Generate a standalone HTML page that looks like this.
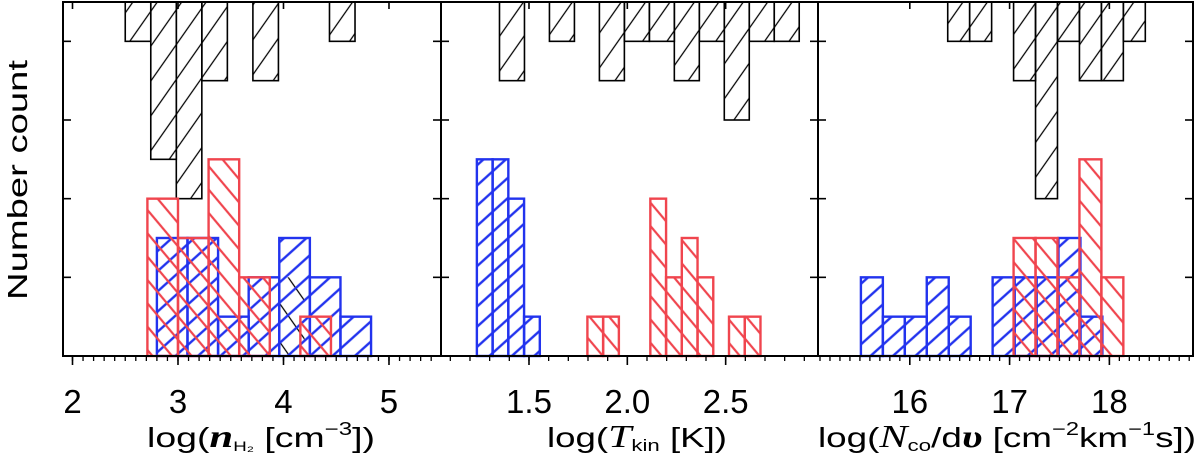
<!DOCTYPE html>
<html><head><meta charset="utf-8"><style>
html,body{margin:0;padding:0;background:#fff;}
svg{display:block;font-family:"Liberation Sans","DejaVu Sans",sans-serif;}
</style></head><body>
<svg id="c" width="1200" height="460" viewBox="0 0 1200 460">
<defs>
<pattern id="hk" patternUnits="userSpaceOnUse" width="20" height="20" patternTransform="rotate(-55)"><line x1="0" y1="10" x2="20" y2="10" stroke="#000" stroke-width="1.3"/></pattern>
<pattern id="hb" patternUnits="userSpaceOnUse" width="15" height="15" patternTransform="rotate(-42)"><line x1="0" y1="7" x2="15" y2="7" stroke="#2233ee" stroke-width="2.4"/></pattern>
<pattern id="hr" patternUnits="userSpaceOnUse" width="15" height="15" patternTransform="rotate(50)"><line x1="0" y1="7" x2="15" y2="7" stroke="#f0454e" stroke-width="2.2"/></pattern>
<pattern id="hx" patternUnits="userSpaceOnUse" width="22" height="22" patternTransform="rotate(55)"><line x1="0" y1="11" x2="22" y2="11" stroke="#000" stroke-width="1.3"/></pattern>
</defs>
<g id="plots"></g>
<text x="27" y="180" transform="rotate(-90 27 180)" text-anchor="middle" font-size="28" textLength="240" lengthAdjust="spacingAndGlyphs">Number count</text>
<text x="147" y="447" font-size="28" textLength="228" lengthAdjust="spacingAndGlyphs">log(<tspan font-family="Liberation Serif" font-style="italic" font-weight="bold" font-size="32">n</tspan><tspan font-size="14" dy="4">H₂</tspan><tspan dy="-4"> [cm</tspan><tspan font-size="18" dy="-12">−3</tspan><tspan dy="12">])</tspan></text>
<text x="547" y="447" font-size="28" textLength="180" lengthAdjust="spacingAndGlyphs">log(<tspan font-family="Liberation Serif" font-style="italic" font-size="32">T</tspan><tspan font-size="17" dy="4">kin</tspan><tspan dy="-4"> [K])</tspan></text>
<text x="818" y="447" font-size="28" textLength="378" lengthAdjust="spacingAndGlyphs">log(<tspan font-family="Liberation Serif" font-style="italic" font-size="32">N</tspan><tspan font-size="17" dy="4">co</tspan><tspan dy="-4">/d</tspan><tspan font-family="Liberation Serif" font-style="italic" font-weight="bold" font-size="32">υ</tspan><tspan> [cm</tspan><tspan font-size="18" dy="-12">−2</tspan><tspan dy="12">km</tspan><tspan font-size="18" dy="-12">−1</tspan><tspan dy="12">s])</tspan></text>
</svg>
<script>
// Panel 1: log n_H2
const p1Black = {start:2.50, width:0.242, counts:[1,4,5,2,0,2,0,0,1]};
const p1Blue  = {start:2.80, width:0.29, counts:[3,3,1,2,3,2,1]};
const p1Red   = {start:2.71, width:0.29, counts:[4,3,5,2,0,1]};
const p1Hidden = {start:3.96, width:0.24, counts:[2]};
const p1Ticks = ["2","3","4","5"];
const p1TickVals = [2,3,4,5];
// Panel 2: log T_kin
const p2Black = {start:1.35, width:0.127, counts:[2,0,1,0,2,1,1,2,1,3,1,1]};
const p2Blue  = {start:1.235, width:0.08, counts:[5,5,4,1]};
const p2Red   = {start:1.797, width:0.08, counts:[1,1,0,0,4,2,3,2,0,1,1]};
const p2Ticks = ["1.5","2.0","2.5"];
const p2TickVals = [1.5,2.0,2.5];
// Panel 3: log N_co/dv
const p3Black = {start:16.38, width:0.22, counts:[1,1,0,2,5,1,2,2,1]};
const p3Blue  = {start:15.51, width:0.22, counts:[2,1,1,2,1,0,2,2,2,3,1]};
const p3Red   = {start:17.04, width:0.22, counts:[3,3,2,5,2]};
const p3Ticks = ["16","17","18"];
const p3TickVals = [16,17,18];

const NS="http://www.w3.org/2000/svg";
const root=document.getElementById('plots');
const Y0=356, YT=2, YMAX=9;
function yS(c){return Y0-(Y0-YT)*c/YMAX;}
function mk(tag,attrs,parent){const e=document.createElementNS(NS,tag);for(const k in attrs)e.setAttribute(k,attrs[k]);(parent||root).appendChild(e);return e;}

const panels=[
 {name:'density',px0:63,px1:441,x0:1.91,x1:5.493,black:p1Black,blue:p1Blue,red:p1Red,hidden:p1Hidden,ticks:p1Ticks,tv:p1TickVals,minor:0.1},
 {name:'temperature',px0:441,px1:818,x0:1.0526,x1:2.9695,black:p2Black,blue:p2Blue,red:p2Red,ticks:p2Ticks,tv:p2TickVals,minor:0.1},
 {name:'column-density',px0:818,px1:1193,x0:15.08,x1:18.838,black:p3Black,blue:p3Blue,red:p3Red,ticks:p3Ticks,tv:p3TickVals,minor:0.1}
];
panels.forEach((p,pi)=>{
  const g=mk('g',{});
  
  
  const xS=v=>p.px0+(v-p.x0)/(p.x1-p.x0)*(p.px1-p.px0);
  function hist(h,fill,stroke,sw,kind,top){
    const hg=mk('g',{},g);
    
    
    h.counts.forEach((c,i)=>{
      if(!c) return;
      const xa=xS(h.start+i*h.width), xb=xS(h.start+(i+1)*h.width);
      let ya,yb;
      if(top){ya=yS(YMAX);yb=yS(YMAX-c);}else{ya=yS(c);yb=yS(0);}
      const r=mk('rect',{x:xa,y:ya,width:xb-xa,height:yb-ya,fill:fill,stroke:stroke,'stroke-width':sw},hg);
      
      
    });
  }
  hist(p.black,'url(#hk)','#000',1.6,'black',true);
  if(p.hidden) hist(p.hidden,'url(#hx)','none',0,'hidden',false);
  hist(p.blue,'url(#hb)','#2233ee',2.4,'blue',false);
  hist(p.red,'url(#hr)','#f0454e',2.4,'red',false);
  const f=mk('rect',{x:p.px0,y:YT,width:p.px1-p.px0,height:Y0-YT,fill:'none',stroke:'#000','stroke-width':2},g);
  
  
  for(let c=2;c<YMAX;c+=2){
    mk('line',{x1:p.px0,x2:p.px0+8,y1:yS(c),y2:yS(c),stroke:'#000','stroke-width':1.6},g);
    mk('line',{x1:p.px1-8,x2:p.px1,y1:yS(c),y2:yS(c),stroke:'#000','stroke-width':1.6},g);
  }
  const st=Math.ceil(p.x0/p.minor)*p.minor;
  for(let v=st; v<p.x1; v+=p.minor){
    const x=xS(v);
    if(x<=p.px0+1||x>=p.px1-1) continue;
    mk('line',{x1:x,x2:x,y1:Y0,y2:Y0+5,stroke:'#000','stroke-width':1.3},g);
  }
  p.tv.forEach((v,i)=>{
    const x=xS(v);
    mk('line',{x1:x,x2:x,y1:Y0,y2:Y0+9,stroke:'#000','stroke-width':1.6},g);
    mk('line',{x1:x,x2:x,y1:YT,y2:YT+7,stroke:'#000','stroke-width':1.6},g);
    const t=mk('text',{x:x,y:413,'text-anchor':'middle','font-size':33},g);
    t.textContent=p.ticks[i];
    
    
  });
});
</script>
</body></html>
